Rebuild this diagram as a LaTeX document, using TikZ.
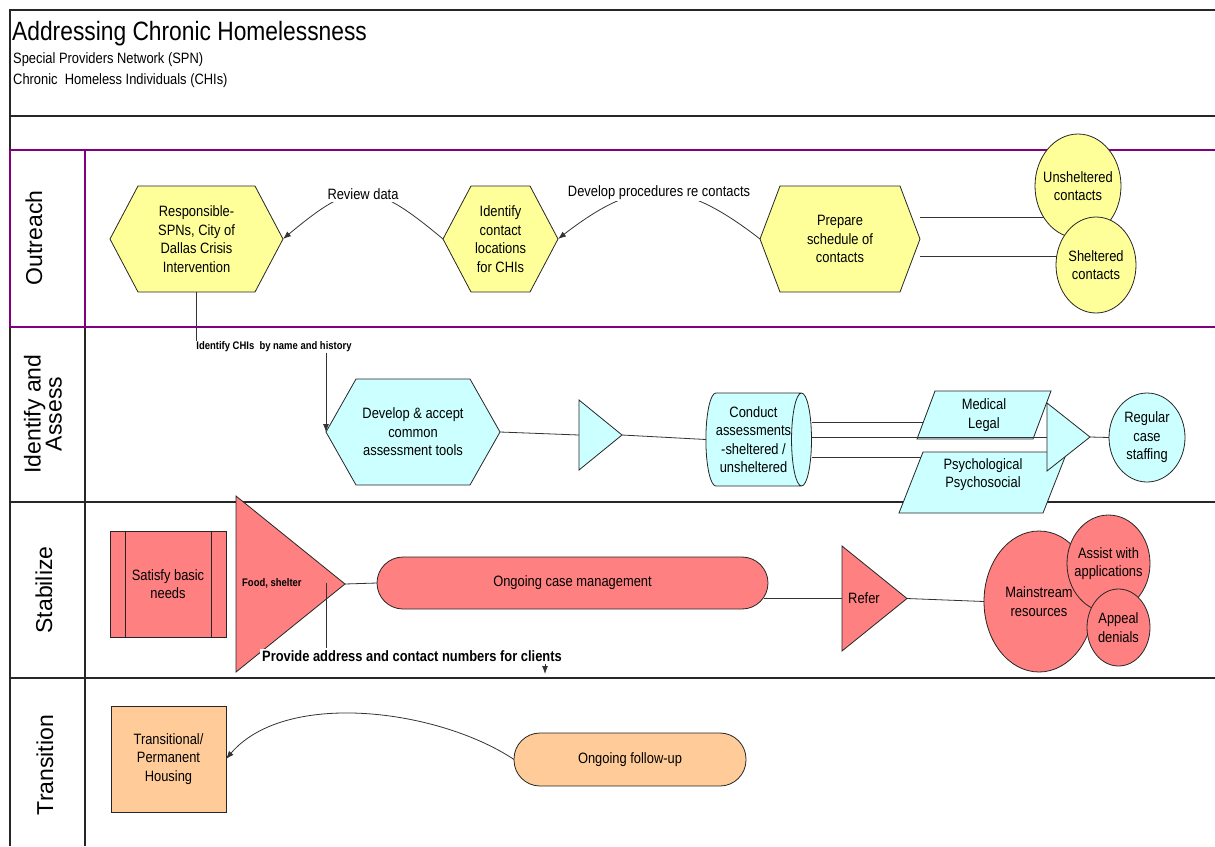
\documentclass[tikz,border=0pt]{standalone}
\usepackage{fontspec}
\setmainfont{Liberation Sans}[FakeStretch=0.86]
\newfontfamily\lanefont{Liberation Sans}
\usetikzlibrary{shapes.geometric, arrows.meta}
\definecolor{yelfill}{RGB}{255,255,153}
\definecolor{cyanfill}{RGB}{204,255,255}
\definecolor{redfill}{RGB}{255,128,128}
\definecolor{peachfill}{RGB}{255,204,153}
\definecolor{lanepurple}{RGB}{128,0,128}
\pgfdeclarelayer{lanes}
\pgfdeclarelayer{shapes}
\pgfdeclarelayer{conn}
\pgfsetlayers{lanes,shapes,conn,main}
\newcommand\bodyfont{\fontsize{15}{18.5}\selectfont}
\newcommand\hexshape[3]{\path[shapeline, fill=#3] (#1.west) -- ([xshift=#2pt]#1.north west) -- ([xshift=-#2pt]#1.north east) -- (#1.east) -- ([xshift=-#2pt]#1.south east) -- ([xshift=#2pt]#1.south west) -- cycle;}
\newcommand\trishape[2]{\path[shapeline, fill=#2] (#1.north west) -- (#1.east) -- (#1.south west) -- cycle;}
\newcommand\parashape[3]{\path[shapeline, fill=#3] ([xshift=#2pt]#1.north west) -- (#1.north east) -- ([xshift=-#2pt]#1.south east) -- (#1.south west) -- cycle;}
\begin{document}
\begin{tikzpicture}[x=1pt, y=-1pt,
  holder/.style={rectangle, inner sep=0pt, outer sep=0pt, align=center, font=\bodyfont},
  shapeline/.style={draw=black!85, line width=0.8pt},
  boxnode/.style={holder, shapeline},
  stadium/.style={holder, shapeline, rounded corners=26pt},
  ell/.style={ellipse, shapeline, inner sep=0pt, outer sep=0pt},
  txt/.style={font=\bodyfont, align=center, inner sep=0pt},
  boldsmall/.style={font=\fontsize{11}{13}\selectfont\bfseries, inner sep=1pt},
  boldbig/.style={font=\fontsize{15}{18}\selectfont\bfseries, inner sep=2pt},
  lanelbl/.style={font=\lanefont\fontsize{23}{21}\selectfont, inner sep=0pt, align=center, rotate=90},
  link/.style={draw=black!80, line width=0.8pt},
  arr/.style={link, -{Latex[length=8pt,width=6pt]}},
  laneline/.style={draw=black!85, line width=1.1pt},
  purpleline/.style={draw=lanepurple, line width=1.3pt}
]
\useasboundingbox (0,0) rectangle (1215,846);

% ---------- frame and lanes ----------
\begin{pgfonlayer}{lanes}
\draw[laneline] (10,846) -- (10,10) -- (1216,10);
\draw[laneline] (10,116) -- (1216,116);
\draw[laneline] (10,502) -- (1216,502);
\draw[laneline] (10,678) -- (1216,678);
\draw[laneline] (85,327) -- (85,846);
\draw[purpleline] (10,150) -- (1216,150);
\draw[purpleline] (10,327) -- (1216,327);
\draw[purpleline] (85,150) -- (85,327);
\draw[purpleline] (10,150) -- (10,327);
\end{pgfonlayer}

% ---------- header ----------
\node[anchor=base west, inner sep=0pt, font=\fontsize{26.5}{30}\selectfont] (title) at (12,40) {Addressing Chronic Homelessness};
\node[anchor=base west, inner sep=0pt, font=\bodyfont] (sub1) at (13,63) {Special Providers Network (SPN)};
\node[anchor=base west, inner sep=0pt, font=\bodyfont] (sub2) at (13,84) {Chronic\ \ Homeless Individuals (CHIs)};

% ---------- lane labels ----------
\node[lanelbl] (lOut) at (34,238) {Outreach};
\node[lanelbl] (lIdA) at (43,414) {Identify and\\Assess};
\node[lanelbl] (lStab) at (44,590) {Stabilize};
\node[lanelbl] (lTrans) at (45,765) {Transition};

% ---------- Outreach ----------
\node[holder, minimum width=173pt, minimum height=106pt] (h1) at (196.5,239) {Responsible-\\SPNs, City of\\Dallas Crisis\\Intervention};
\node[holder, minimum width=115pt, minimum height=106pt] (h2) at (500.5,239) {Identify\\contact\\locations\\for CHIs};
\node[holder, minimum width=160pt, minimum height=106pt] (h3) at (840,239) {Prepare\\schedule of\\contacts};
\node[ell, fill=yelfill, minimum width=86pt, minimum height=104pt, label={[txt]center:Unsheltered\\contacts}] (uns) at (1078,186) {};
\node[ell, fill=yelfill, minimum width=80pt, minimum height=96pt, label={[txt]center:Sheltered\\contacts}] (shel) at (1096,265) {};

% ---------- Identify and Assess ----------
\node[holder, minimum width=174pt, minimum height=106pt] (h4) at (413,432) {Develop \& accept\\common\\assessment tools};
\node[holder, minimum width=43pt, minimum height=70pt] (t1) at (600.5,435) {};
\node[cylinder, shapeline, fill=cyanfill, aspect=0.3, minimum width=93pt, minimum height=105pt, inner sep=0pt, outer sep=0pt, align=center, font=\bodyfont] (cyl) at (753.5,439.5) {Conduct\\assessments\\-sheltered /\\unsheltered};
\node[holder, minimum width=134pt, minimum height=48pt] (med) at (984,415) {Medical\\Legal};
\node[holder, minimum width=168pt, minimum height=61pt] (psy) at (983,482.5) {Psychological\\Psychosocial\\[0pt]\mbox{}};
\node[holder, minimum width=43pt, minimum height=68pt] (t2) at (1068.5,437) {};
\node[ell, fill=cyanfill, minimum width=76pt, minimum height=89pt, label={[txt]center:Regular\\case\\staffing}] (reg) at (1147,437.5) {};

% ---------- Stabilize ----------
\node[boxnode, fill=redfill, minimum width=116pt, minimum height=106pt] (sat) at (168,584) {Satisfy basic\\needs};
\draw[shapeline] ([xshift=15pt]sat.north west) -- ([xshift=15pt]sat.south west);
\draw[shapeline] ([xshift=-15pt]sat.north east) -- ([xshift=-15pt]sat.south east);
\node[holder, minimum width=109pt, minimum height=176pt] (food) at (290.5,584) {};
\node[boldsmall, anchor=west] (foodtxt) at (241,583) {Food, shelter};
\node[stadium, fill=redfill, minimum width=391pt, minimum height=52pt] (case) at (572.5,583) {Ongoing case management};
\node[holder, minimum width=65pt, minimum height=105pt] (refer) at (874.5,598.5) {};
\node[txt, anchor=west] (refertxt) at (848,598) {Refer};
\node[ell, fill=redfill, minimum width=110pt, minimum height=141pt, label={[txt]center:Mainstream\\resources}] (mainres) at (1039,601.5) {};
\node[ell, fill=redfill, minimum width=83pt, minimum height=97pt, label={[txt]center:Assist with\\applications}] (assist) at (1108.5,563.5) {};
\node[ell, fill=redfill, minimum width=63pt, minimum height=77pt, label={[txt]center:Appeal\\denials}] (appeal) at (1118.5,627.5) {};
\node[boldbig, fill=white] (prov) at (412,656) {Provide address and contact numbers for clients};
\coordinate (foodPt) at (326,583);
\coordinate (provEnd) at (545,674);

% ---------- Transition ----------
\node[boxnode, fill=peachfill, minimum width=115pt, minimum height=106pt] (house) at (168.5,759) {Transitional/\\Permanent\\Housing};
\node[stadium, fill=peachfill, minimum width=232pt, minimum height=53pt] (follow) at (630,759.5) {Ongoing follow-up};

% ---------- shape outlines drawn from node anchors ----------
\begin{pgfonlayer}{shapes}
\hexshape{h1}{28}{yelfill}
\hexshape{h2}{28}{yelfill}
\hexshape{h3}{20}{yelfill}
\hexshape{h4}{30}{cyanfill}
\trishape{t1}{cyanfill}
\parashape{med}{18}{cyanfill}
\parashape{psy}{24}{cyanfill}
\trishape{t2}{cyanfill}
\trishape{food}{redfill}
\trishape{refer}{redfill}
\end{pgfonlayer}

% ---------- connectors ----------
\begin{pgfonlayer}{conn}
\draw[arr] (h2.west) .. controls +(-72,-60) and +(72,-60) .. node[midway, txt, fill=white, inner sep=2pt] (rvw) {Review data} (h1.east);
\draw[arr] (h3.west) .. controls +(-80,-62) and +(80,-62) .. node[midway, txt, fill=white, inner sep=2pt] (dvp) {Develop procedures re contacts} (h2.east);
\coordinate (unsIn) at (1060,217);
\coordinate (shelIn) at (1080,256);
\draw[link] (h3.east |- unsIn) -- (unsIn);
\draw[link] (h3.east |- shelIn) -- (shelIn);
\node[boldsmall, fill=white] (idl) at (274,347) {Identify CHIs\ \ by name and history};
\draw[link] (h1.south) -- (h1.south |- idl.north);
\draw[arr] (idl.south -| h4.west) -- (h4.west);
\draw[link] (h4.east) -- (t1.west);
\draw[link] (t1.east) -- (cyl.west);
\coordinate (medL) at (923,422);
\coordinate (psyL) at (921,457);
\draw[link] (cyl.east |- medL) -- (medL);
\draw[link] (cyl.east |- t2.west) -- (t2.west);
\draw[link] (cyl.east |- psyL) -- (psyL);
\draw[link] (t2.east) -- (reg.west);
\draw[link] (food.east) -- (case.west);
\draw[link] ([xshift=-4pt]refer.west -| case.east) -- (refer.west);
\draw[link] (refer.east) -- (mainres.west);
\draw[link] (foodPt) -- (foodPt |- prov.north);
\draw[arr] (prov.south -| provEnd) -- (provEnd);
\draw[arr] (follow.west) .. controls +(-75,-50) and +(60,-70) .. (house.east);
\end{pgfonlayer}
\end{tikzpicture}
\end{document}
